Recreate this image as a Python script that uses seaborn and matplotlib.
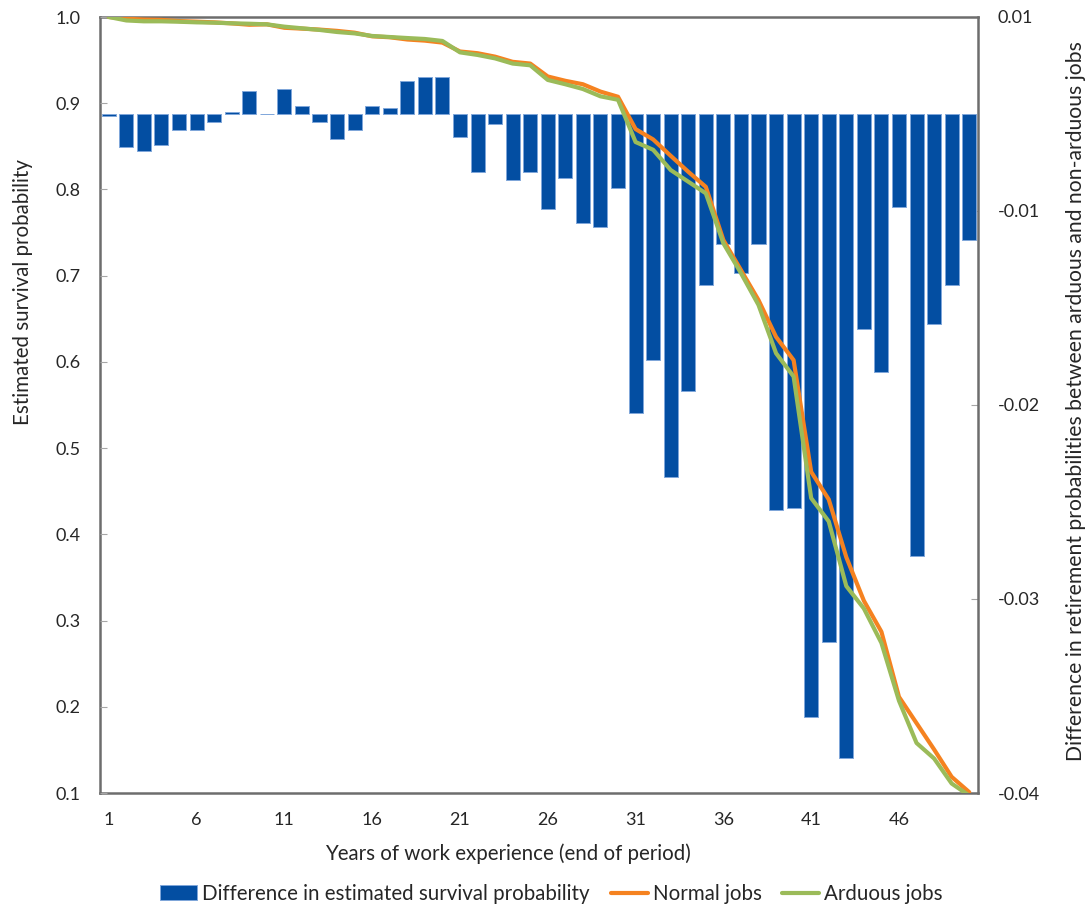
import numpy as np
import pandas as pd
import matplotlib
matplotlib.use("Agg")
import matplotlib.pyplot as plt
import seaborn as sns
from decimal import Decimal, ROUND_HALF_UP

# Years of work experience (end of period)
years = np.arange(1, 51)

# Difference in estimated survival probability (arduous - normal), right axis
diff = [-0.0001, -0.0017, -0.0019, -0.0016, -0.0008, -0.0008, -0.0004, 0.0001, 0.0012, 0.0,
        0.0013, 0.0004, -0.0004, -0.0013, -0.0008, 0.0004, 0.0003, 0.0017, 0.0019, 0.0019,
        -0.0012, -0.0030, -0.0005, -0.0034, -0.0030, -0.0049, -0.0033, -0.0056, -0.0058, -0.0038,
        -0.0154, -0.0127, -0.0187, -0.0143, -0.0088, -0.0067, -0.0082, -0.0067, -0.0204, -0.0203,
        -0.0311, -0.0272, -0.0332, -0.0111, -0.0133, -0.0048, -0.0228, -0.0108, -0.0088, -0.0065]

# Estimated survival probability, left axis
normal_jobs = [1.0, 0.998, 0.997, 0.9966, 0.9953, 0.9946, 0.9938, 0.9926, 0.991, 0.9915,
               0.9875, 0.9865, 0.9854, 0.9839, 0.9818, 0.9776, 0.9765, 0.9739, 0.9726, 0.9703,
               0.960, 0.958, 0.954, 0.948, 0.946, 0.931, 0.926, 0.922, 0.9135, 0.9075,
               0.870, 0.858, 0.839, 0.8205, 0.803, 0.7413, 0.7065, 0.6717, 0.629, 0.602,
               0.4725, 0.4405, 0.3735, 0.323, 0.287, 0.2115, 0.181, 0.1505, 0.1187, 0.101]
arduous_jobs = [1.0, 0.996, 0.995, 0.995, 0.9945, 0.9938, 0.9934, 0.9927, 0.9922, 0.9915,
                0.9888, 0.9869, 0.985, 0.9826, 0.981, 0.978, 0.9768, 0.9756, 0.9745, 0.9722,
                0.959, 0.956, 0.952, 0.946, 0.944, 0.927, 0.922, 0.9165, 0.908, 0.904,
                0.855, 0.846, 0.8225, 0.809, 0.7955, 0.7375, 0.703, 0.666, 0.610, 0.583,
                0.442, 0.415, 0.340, 0.314, 0.274, 0.207, 0.158, 0.140, 0.111, 0.097]

left_ticks = [0.1, 0.2, 0.3, 0.4, 0.5, 0.6, 0.7, 0.8, 0.9, 1.0]
right_ticks = [0.005, -0.005, -0.015, -0.025, -0.035]
x_tick_years = years[::5]

df = pd.DataFrame({"year": years, "diff": diff,
                   "normal": normal_jobs, "arduous": arduous_jobs})

BLUE = "#034ea2"
ORANGE = "#f58220"
GREEN = "#9bbb59"
GRAY = "#6d6d6d"
TICKGRAY = "#a6a6a6"

sns.set_style("white")
plt.rcParams["font.family"] = ["Lato", "DejaVu Sans"]
FS_TICK = 13
FS_LAB = 14.8

fig = plt.figure(figsize=(10.9, 9.06), dpi=100)
ax = fig.add_axes([100 / 1090, 1 - 793 / 906, 878 / 1090, 776 / 906])

# bars on the secondary (right) scale
sns.barplot(data=df, x="year", y="diff", native_scale=True, color=BLUE, saturation=1,
            width=0.8, errorbar=None, edgecolor="#7fa6da", linewidth=0.7, ax=ax)

ax_line = ax.twinx()
sns.lineplot(data=df, x="year", y="normal", color=ORANGE, lw=3, ax=ax_line,
             label="Normal jobs", legend=False)
sns.lineplot(data=df, x="year", y="arduous", color=GREEN, lw=3, ax=ax_line,
             label="Arduous jobs", legend=False)

# bar axis goes to the right, line axis to the left
ax.yaxis.tick_right()
ax.yaxis.set_label_position("right")
ax_line.yaxis.tick_left()
ax_line.yaxis.set_label_position("left")

ax.set_xlim(years[0] - 0.5, years[-1] + 0.5)
ax.set_ylim(right_ticks[-1], right_ticks[0])
ax_line.set_ylim(left_ticks[0], left_ticks[-1])

ax.set_xticks(x_tick_years)
ax.set_xticklabels([str(y) for y in x_tick_years], fontsize=FS_TICK)
ax.set_xticks(np.append(years - 0.5, years[-1] + 0.5), minor=True)
ax.tick_params(axis="x", which="major", length=0, pad=14)
ax.tick_params(axis="x", which="minor", direction="in", length=5, color=TICKGRAY, width=1)

ax.set_yticks(right_ticks)
ax.set_yticklabels([str(Decimal(str(v)).quantize(Decimal("0.01"), ROUND_HALF_UP))
                    for v in right_ticks], fontsize=FS_TICK)
ax.tick_params(axis="y", direction="in", length=5, color=TICKGRAY, pad=14)

ax_line.set_yticks(left_ticks)
ax_line.set_yticklabels([f"{v:.1f}" for v in left_ticks], fontsize=FS_TICK)
ax_line.tick_params(axis="y", direction="in", length=5, color=TICKGRAY, pad=14)

for s in ax.spines.values():
    s.set_color(GRAY)
    s.set_linewidth(1.8)
for s in ax_line.spines.values():
    s.set_visible(False)

ax.set_xlabel("Years of work experience (end of period)", fontsize=FS_LAB)
ax.xaxis.set_label_coords(0.465, -0.0655)
ax.set_ylabel("Difference in retirement probabilities between arduous and non-arduous jobs",
              fontsize=15.2)
ax.yaxis.set_label_coords(1.1, 0.505)
ax_line.set_ylabel("Estimated survival probability", fontsize=FS_LAB)
ax_line.yaxis.set_label_coords(-0.076, 0.646)

handles = [ax.patches[0]] + ax_line.get_lines()
labels = ["Difference in estimated survival probability", "Normal jobs", "Arduous jobs"]
fig.legend(handles, labels, loc="center", bbox_to_anchor=(0.506, 0.0135), ncol=3,
           frameon=False, fontsize=FS_LAB, handlelength=1.8, handletextpad=0.25,
           columnspacing=1.0)

fig.savefig("out.png", dpi=100)
